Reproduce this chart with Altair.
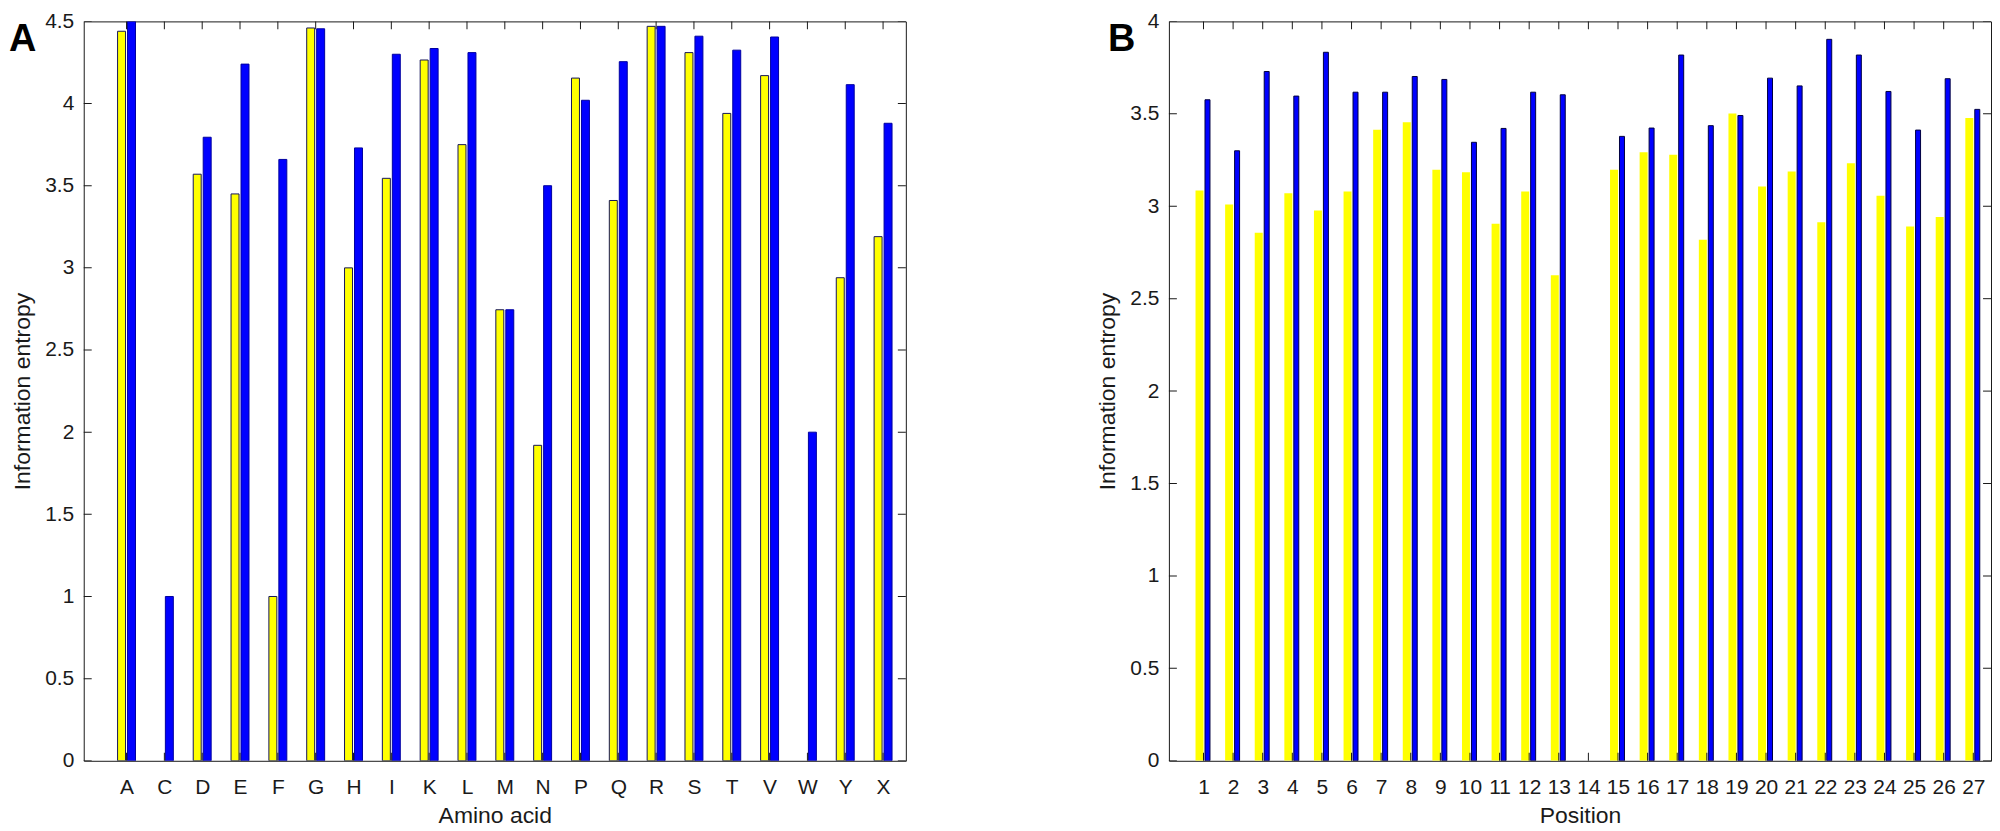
import altair as alt
import pandas as pd

# ---------------- data ----------------
amino_acids = ["A", "C", "D", "E", "F", "G", "H", "I", "K", "L", "M",
               "N", "P", "Q", "R", "S", "T", "V", "W", "Y", "X"]
a_yellow = [4.44, 0.0, 3.57, 3.45, 1.0, 4.46, 3.0, 3.545, 4.265, 3.75, 2.745,
            1.92, 4.155, 3.41, 4.47, 4.31, 3.94, 4.17, 0.0, 2.94, 3.19]
a_blue = [4.5, 1.0, 3.795, 4.24, 3.66, 4.455, 3.73, 4.30, 4.335, 4.31, 2.745,
          3.50, 4.02, 4.255, 4.47, 4.41, 4.325, 4.405, 2.0, 4.115, 3.88]
a_yticks = [0, 0.5, 1, 1.5, 2, 2.5, 3, 3.5, 4, 4.5]

positions = list(range(1, 28))
b_yellow = [3.085, 3.01, 2.857, 3.071, 2.977, 3.08, 3.414, 3.454, 3.198, 3.184,
            2.906, 3.08, 2.627, 0.0, 3.198, 3.292, 3.279, 2.819, 3.502, 3.107,
            3.188, 2.913, 3.232, 3.057, 2.891, 2.942, 3.477]
b_blue = [3.576, 3.30, 3.729, 3.596, 3.833, 3.617, 3.617, 3.702, 3.686, 3.346,
          3.421, 3.617, 3.603, 0.0, 3.378, 3.423, 3.818, 3.436, 3.491, 3.693,
          3.651, 3.903, 3.818, 3.621, 3.412, 3.690, 3.524]
b_yticks = [0, 0.5, 1, 1.5, 2, 2.5, 3, 3.5, 4]

FONT = "Liberation Sans"
INK = "#1a1a1a"
YELLOW = "#ffff00"
BLUE = "#0000ff"


def panel(xs, label_expr, yel, blu, xmax, ymax, yticks, xtitle, letter,
          letter_dx, ystyle, bstyle, W, H):
    df = pd.DataFrame({"x": xs, "yellow": yel, "blue": blu})
    xscale = alt.Scale(domain=[0, xmax], nice=False, zero=False)
    yscale = alt.Scale(domain=[0, ymax], nice=False)
    xaxis_kw = dict(values=xs, title=xtitle, ticks=False, tickSize=0,
                    domain=False, grid=False, labelPadding=16, titlePadding=7,
                    labelFontSize=21, titleFontSize=23, labelFont=FONT,
                    titleFont=FONT, labelColor=INK, titleColor=INK,
                    titleFontWeight="normal", labelFlush=False,
                    labelOverlap=False, labelAngle=0)
    if label_expr:
        xaxis_kw["labelExpr"] = label_expr
    else:
        xaxis_kw["format"] = "d"
    xaxis = alt.Axis(**xaxis_kw)
    yaxis = alt.Axis(values=yticks, format="~g", title="Information entropy",
                     ticks=False, tickSize=0, domain=False, grid=False,
                     labelPadding=10, titlePadding=10, labelFontSize=21,
                     titleFontSize=23, labelFont=FONT, titleFont=FONT,
                     labelColor=INK, titleColor=INK, titleFontWeight="normal",
                     labelFlush=False, labelOverlap=False)

    def X(f):
        return alt.X(f, scale=xscale, axis=xaxis)

    def Y(f):
        return alt.Y(f, scale=yscale, axis=yaxis, stack=None)

    base = alt.Chart(df)
    yellow = base.transform_filter("datum.yellow > 0").mark_bar(
        orient="vertical", clip=True, **ystyle
    ).encode(x=X("x:Q"), y=Y("yellow:Q"))
    blue = base.transform_filter("datum.blue > 0").mark_bar(
        orient="vertical", clip=True, **bstyle
    ).encode(x=X("x:Q"), y=Y("blue:Q"))

    xt = alt.Chart(pd.DataFrame({"v": xs}))
    yt = alt.Chart(pd.DataFrame({"v": yticks}))
    tick_kw = dict(size=16, thickness=1, color=INK, clip=True, opacity=1)
    bottom = xt.mark_tick(orient="vertical", **tick_kw).encode(
        x=X("v:Q"), y=alt.value(H))
    top = xt.mark_tick(orient="vertical", **tick_kw).encode(
        x=X("v:Q"), y=alt.value(0))
    left = yt.mark_tick(orient="horizontal", **tick_kw).encode(
        y=Y("v:Q"), x=alt.value(0))
    right = yt.mark_tick(orient="horizontal", **tick_kw).encode(
        y=Y("v:Q"), x=alt.value(W))

    lab = alt.Chart(pd.DataFrame({"t": [letter]})).mark_text(
        align="left", baseline="top", fontSize=38, fontWeight="bold",
        font=FONT, color="#000000"
    ).encode(text="t:N", x=alt.value(letter_dx), y=alt.value(0))

    return alt.layer(yellow, blue, bottom, top, left, right, lab).properties(
        width=W, height=H)


a_expr = "[" + ",".join("'%s'" % c for c in amino_acids) + "][datum.value - 1]"

panel_a = panel(
    list(range(1, len(amino_acids) + 1)), a_expr, a_yellow, a_blue,
    21.47, 4.5, a_yticks, "Amino acid", "A", -75,
    dict(width=8, xOffset=-5, color=YELLOW, stroke="#15155a", strokeWidth=1),
    dict(width=8, xOffset=5, color=BLUE, stroke="#0000a0", strokeWidth=1),
    825, 742)

panel_b = panel(
    positions, None, b_yellow, b_blue,
    27.43, 4, b_yticks, "Position", "B", -61,
    dict(width=8, xOffset=-4, color=YELLOW),
    dict(width=5, xOffset=4, color=BLUE, stroke="#000040", strokeWidth=1),
    825, 742)

chart = alt.hconcat(panel_a, panel_b, spacing=190).properties(
    padding=0, background="white"
).configure_view(stroke=INK, strokeWidth=1)

chart.save("out.html", embed_options={"renderer": "svg", "actions": False})
